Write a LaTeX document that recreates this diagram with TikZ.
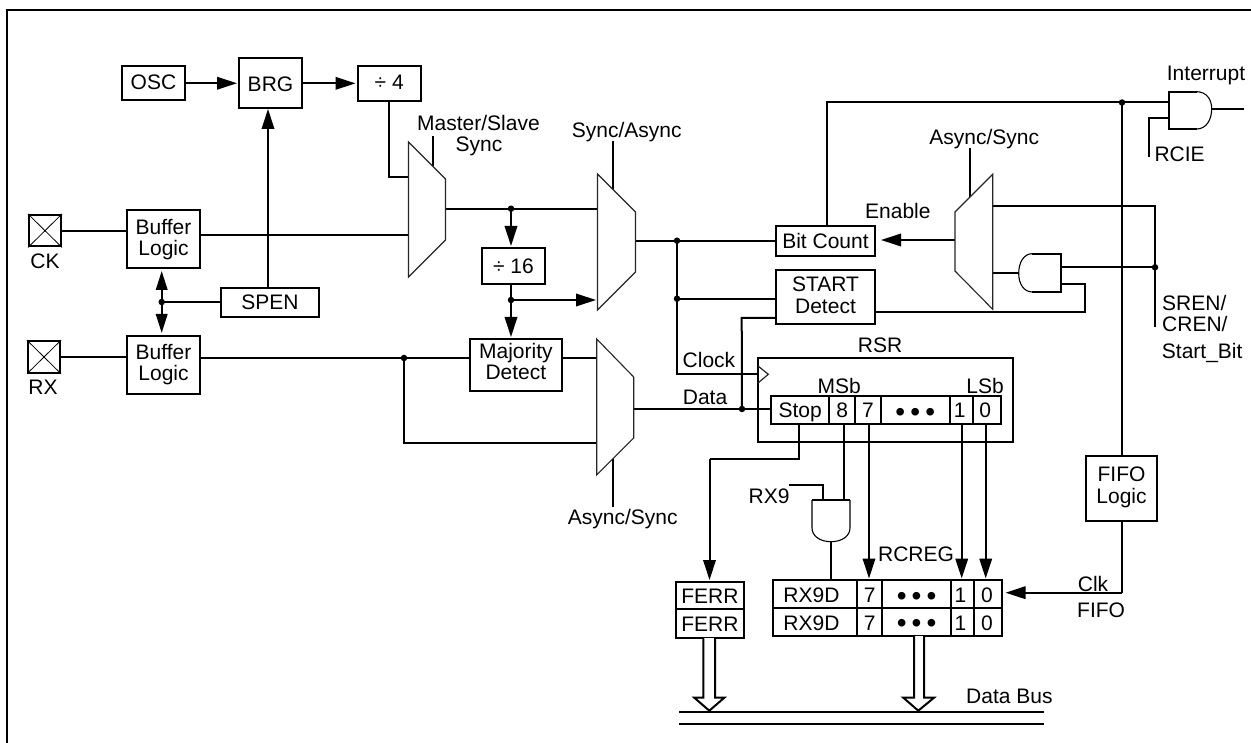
\documentclass[tikz,border=0pt]{standalone}
\usepackage{fontspec}
\setmainfont{Liberation Sans}
\usetikzlibrary{arrows.meta,calc}
\tikzset{
  wire/.style={line width=2pt,line cap=butt,line join=miter},
  arr/.style={wire,shorten >=1pt,-{Triangle[length=20pt,width=12.5pt]}},
  darr/.style={wire,shorten >=2pt,-{Triangle[length=19pt,width=11.5pt]}},
  bx/.style={draw,line width=2pt,inner sep=0pt,font=\fontsize{21}{21}\selectfont},
  txt/.style={inner sep=0pt,font=\fontsize{21}{21}\selectfont},
  thinl/.style={line width=1.1pt,draw=black!85},
  dot/.style={circle,fill=black,inner sep=0pt,minimum size=6.5pt},
  curve/.style={line width=1.1pt,fill=white},
  hollow/.style={line width=2pt,fill=white,line join=miter},
}
% name x1 y1 x2 y2 text baseline-of-last-line
\newcommand{\boxn}[7]{%
  \pgfmathsetmacro{\dyv}{(#7)-(#3+#5)/2}%
  \node[bx,minimum width=#4-#2,minimum height=#5-#3] (#1) at ({(#2+#4)/2},{(#3+#5)/2})
    {\smash{\raisebox{-\dyv pt}{#6}}};}
\newcommand{\stk}[2]{\vbox{\baselineskip=21.4pt\lineskiplimit=-100pt\halign{\hfil##\hfil\cr #1\cr #2\cr}}}
\newcommand{\bigdots}{{\fontsize{28}{28}\selectfont •\kern5.2pt•\kern5.2pt•}}
\newcounter{lb}
\newcommand{\lbl}[3]{\stepcounter{lb}\node[txt,anchor=base] (lab\thelb) at (#1,#2) {#3};}
\newcommand{\lbw}[3]{\stepcounter{lb}\node[txt,anchor=base west] (lab\thelb) at (#1,#2) {#3};}
\begin{document}
\begin{tikzpicture}[x=1pt,y=-1pt]
\useasboundingbox (0,0) rectangle (1251,743);
% frame
\coordinate (fbl) at (7,743);
\coordinate (ftl) at (7,10);
\coordinate (ftr) at (1251,10);
\draw[wire,line width=2.6pt] (fbl) -- (ftl) -- (ftr);

% mux corners
\coordinate (m1a) at (408.5,142); \coordinate (m1b) at (445.5,179); \coordinate (m1c) at (445.5,240); \coordinate (m1d) at (408.5,277);
\coordinate (m2a) at (597.5,174); \coordinate (m2b) at (635.5,212); \coordinate (m2c) at (635.5,272); \coordinate (m2d) at (597.5,310);
\coordinate (m3a) at (596.7,339); \coordinate (m3b) at (633.7,377); \coordinate (m3c) at (633.7,438); \coordinate (m3d) at (596.7,475);
\coordinate (m4a) at (992.7,174.3); \coordinate (m4b) at (955,212); \coordinate (m4c) at (955,271); \coordinate (m4d) at (992.7,309.3);

% boxes
\boxn{osc}{122}{66}{185}{100.5}{OSC}{89.5}
\boxn{brg}{239}{58}{302}{108}{BRG}{92}
\boxn{div4}{357.5}{65.7}{421}{101}{÷ 4}{90}
\boxn{buf1}{127}{210}{200}{268}{\stk{Buffer}{Logic}}{256}
\boxn{buf2}{127}{336}{200}{394}{\stk{Buffer}{Logic}}{380.7}
\boxn{spen}{221}{288}{319}{316.7}{SPEN}{310}
\boxn{div16}{482}{248}{545}{284.5}{÷ 16}{274}
\boxn{maj}{469.5}{339}{562.3}{390.7}{\stk{Majority}{Detect}}{380}
\boxn{bitc}{776}{226}{875}{255.7}{Bit Count}{248.3}
\boxn{start}{776}{270}{875}{324}{\stk{START}{Detect}}{313.3}
\boxn{fifo}{1085.7}{455.7}{1157.3}{520.7}{\stk{FIFO}{Logic}}{503.3}

% pads
\node[draw,line width=2pt,minimum width=32pt,minimum height=31.5pt,inner sep=0pt] (ck) at (45,230.7) {};
\draw[line width=.8pt] (ck.north west) -- (ck.south east) (ck.north east) -- (ck.south west);
\node[draw,line width=2pt,minimum width=32pt,minimum height=31.5pt,inner sep=0pt] (rx) at (44,357) {};
\draw[line width=.8pt] (rx.north west) -- (rx.south east) (rx.north east) -- (rx.south west);

% RSR
\boxn{rsr}{758}{357.7}{1012.7}{441.7}{}{400}
\boxn{rstop}{771}{396}{829.3}{424}{Stop}{417.7}
\boxn{r8}{829.3}{396}{855}{424}{8}{417.7}
\boxn{r7}{855}{396}{880.7}{424}{7}{417.7}
\boxn{rdots}{880.7}{396}{950}{424}{\bigdots}{421}
\boxn{r1}{950}{396}{973.3}{424}{1\kern4pt}{417.7}
\boxn{r0}{973.3}{396}{1001}{424}{0\kern4pt}{417.7}
% RCREG
\boxn{a9}{772.7}{580}{857.3}{608}{RX9D\kern7pt}{602.3}
\boxn{a7}{857.3}{580}{882.3}{608}{7}{602.3}
\boxn{adots}{882.3}{580}{951}{608}{\bigdots}{605}
\boxn{a1}{951}{580}{974}{608}{1\kern4pt}{602.3}
\boxn{a0}{974}{580}{1001.7}{608}{0\kern2pt}{602.3}
\boxn{b9}{772.7}{608}{857.3}{635.7}{RX9D\kern7pt}{630}
\boxn{b7}{857.3}{608}{882.3}{635.7}{7}{630}
\boxn{bdots}{882.3}{608}{951}{635.7}{\bigdots}{632.7}
\boxn{b1}{951}{608}{974}{635.7}{1\kern4pt}{630}
\boxn{b0}{974}{608}{1001.7}{635.7}{0\kern2pt}{630}
% FERR
\boxn{fe1}{675.7}{581.7}{744}{609.3}{FERR}{603.3}
\boxn{fe2}{675.7}{609.3}{744}{637.7}{FERR}{631}

% clock triangle
\draw[thinl,line width=1.2pt] (758,366) -- (768.3,374.3) coordinate (clk) -- (758,383);

% junctions
\coordinate (jd) at (742,409);
\coordinate (jm1) at (511,208.7);
\coordinate (j16) at (511,300);
\coordinate (jo2a) at (677,240.7);
\coordinate (jo2b) at (677,298.7);
\coordinate (jmaj) at (404,358);
\coordinate (jsp) at (161.7,302);
\coordinate (jtop) at (1122,102.5);
\coordinate (jsr) at (1155,267.3);

% AND gates: thin curve, heavy straight edges
\draw[curve] (1196.7,91.7) .. controls (1206,91.7) and (1211.7,99) .. (1211.7,108.7) coordinate (g1o) .. controls (1211.7,120) and (1206,129) .. (1196.7,129);
\draw[wire] (1196.7,91.7) -- (1169,91.7) -- (1169,129) -- (1196.7,129);
\draw[curve] (1032.3,253.7) .. controls (1024,253.7) and (1018.7,262) .. (1018.7,273.5) coordinate (g2o) .. controls (1018.7,284) and (1024,292) .. (1032.3,292);
\draw[wire] (1032.3,253.7) -- (1061,253.7) -- (1061,292) -- (1032.3,292);
\draw[curve] (850,500) -- (850,528) .. controls (850,536) and (842,541.7) .. (831,541.7) coordinate (g3o) .. controls (820,541.7) and (812,536) .. (812,528) -- (812,500);
\draw[wire] (812,500) -- (850,500);

% connectors
\draw[arr] (osc.east) -- (osc.east -| brg.west);
\draw[arr] (div4.west -| brg.east) -- (div4.west);
\draw[wire] (ck.east) -- (ck.east -| buf1.west);
\draw[wire] (buf1.east |- 0,235) -- (409,235);
\draw[arr] (spen.north -| 268,0) -- (268,108);
\draw[wire] (jsp) -- (spen.west |- jsp);
\draw[darr] (jsp) -- (buf2.north -| jsp);
\draw[darr] (jsp) -- (buf1.south -| jsp);
\draw[wire] (rx.east) -- (rx.east -| buf2.west);
\draw[wire] (buf2.east |- jmaj) -- (maj.west |- jmaj);
\draw[wire] (jmaj) -- (404,443) -- (597,443);
\draw[wire] (389,101) -- (389,177) -- (409,177);
\draw[wire] (432.7,136) -- (432.7,166);
\draw[wire] (445.5,208.7) -- (598,208.7);
\draw[arr] (jm1) -- (jm1 |- div16.north);
\draw[wire] (j16 |- div16.south) -- (j16);
\draw[arr] (j16) -- (j16 |- maj.north);
\draw[arr] (j16) -- (597,300);
\draw[wire] (612.7,141) -- (612.7,190);
\draw[wire] (635.5,240.7) -- (bitc.west |- jo2a);
\draw[wire] (jo2b) -- (start.west |- jo2b);
\draw[wire] (jo2a) -- (677,374.3) -- (758,374.3);
\draw[wire] (start.west |- 0,318) -- (741.7,318) -- (jd);
\draw[wire] (maj.east |- jmaj) -- (597,358);
\draw[wire] (633.7,409) -- (rstop.west |- jd);
\draw[wire] (612.7,458) -- (612.7,506.7);

% right side
\draw[wire] (bitc.north -| 827.3,0) -- (827.3,102.5) -- (1169,102.5);
\draw[wire] (jtop) -- (jtop |- fifo.north);
\draw[wire] (g1o) -- (1244,108.7);
\draw[wire] (1169,118) -- (1149.3,118) -- (1149.3,157.3);
\draw[wire] (970,148.3) -- (970,196.7);
\draw[arr] (955,240) -- (880,240);
\draw[wire] (991.5,205.7) -- (1155,205.7) -- (1155,327.3);
\draw[wire] (1061,267.3) -- (jsr);
\draw[wire] (g2o) -- (992.7,273.5);
\draw[wire] (1061,284) -- (1085,284) -- (1085,311.7) -- (start.east |- 0,311.7);

% register to register
\draw[wire] (rstop.south -| 799,0) -- (799,458.7) -- (709.5,458.7);
\draw[arr] (709.5,458.7) -- (709.5,581);
\draw[wire] (844,424) -- (844,500);
\draw[arr] (869,424) -- (869,579.5);
\draw[arr] (961.7,424) -- (961.7,579.5);
\draw[arr] (985.7,424) -- (985.7,579.5);
\draw[wire] (789.3,485) -- (823,485) -- (823,500);
\draw[wire] (g3o) -- (831,580);
\draw[wire] (jtop |- fifo.south) -- (1122,592.7);
\draw[arr] (1122,592.7) -- (1004.5,592.7);

% mux outlines
\draw[thinl,fill=white] (m1a) -- (m1b) -- (m1c) -- (m1d) -- cycle;
\draw[thinl,fill=white] (m2a) -- (m2b) -- (m2c) -- (m2d) -- cycle;
\draw[thinl,fill=white] (m3a) -- (m3b) -- (m3c) -- (m3d) -- cycle;
\draw[thinl,fill=white] (m4a) -- (m4b) -- (m4c) -- (m4d) -- cycle;

% junction dots
\foreach \c in {jd,jm1,j16,jo2a,jo2b,jmaj,jsp,jtop,jsr} \node[dot] at (\c) {};

% hollow bus arrows
\draw[hollow] (703.3,638) -- (703.3,697.7) -- (694.3,697.7) -- (709.3,710.7) -- (724.3,697.7) -- (715,697.7) -- (715,638);
\draw[hollow] (914,636) -- (914,697.7) -- (903.3,697.7) -- (918.3,710.7) -- (934,697.7) -- (924,697.7) -- (924,636);
% data bus
\coordinate (busl) at (679,712); \coordinate (busr) at (1044,712);
\draw[wire] (busl) -- (busr);
\coordinate (busl2) at (679,723.7); \coordinate (busr2) at (1044,723.7);
\draw[wire] (busl2) -- (busr2);

% labels
\lbl{45}{268.3}{CK}
\lbl{43}{395}{RX}
\lbw{417}{131}{Master/Slave}
\lbl{479}{151.7}{Sync}
\lbw{571.7}{137.3}{Sync/Async}
\lbw{682.5}{368}{Clock}
\lbw{682.7}{404}{Data}
\lbl{622.7}{524}{Async/Sync}
\lbl{880}{353}{RSR}
\lbl{839.3}{393}{MSb}
\lbl{985}{393}{LSb}
\lbw{1166.7}{81}{Interrupt}
\lbw{1154.3}{161.7}{RCIE}
\lbl{984.3}{145}{Async/Sync}
\lbw{865}{219}{Enable}
\lbw{1162}{311}{SREN/}
\lbw{1162}{331.7}{CREN/}
\lbw{1161.7}{358.3}{Start\_Bit}
\lbw{748.5}{503}{RX9}
\lbl{916}{561.7}{RCREG}
\lbw{1077.7}{591.7}{Clk}
\lbw{1077}{617}{FIFO}
\lbw{966}{703.3}{Data Bus}
\end{tikzpicture}
\end{document}
